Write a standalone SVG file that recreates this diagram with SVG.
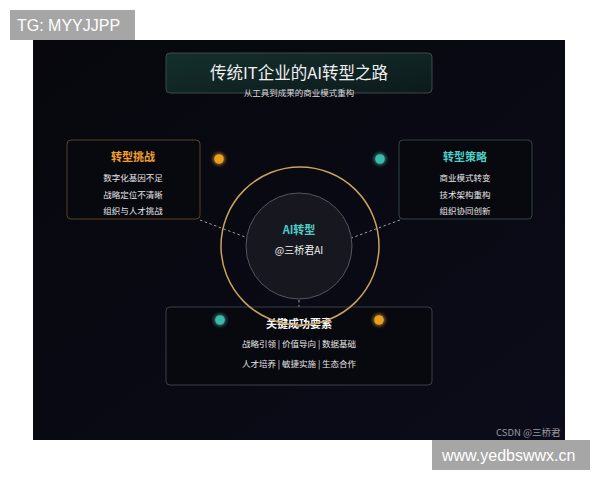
<svg xmlns="http://www.w3.org/2000/svg" width="600" height="480" viewBox="0 0 600 480">
<defs>
<linearGradient id="titleFill" x1="0" y1="0" x2="1" y2="1">
<stop offset="0" stop-color="#14302c"/>
<stop offset="1" stop-color="#0d1a1c"/>
</linearGradient>
<linearGradient id="panel" x1="0" y1="0" x2="1" y2="1">
<stop offset="0" stop-color="#07070d"/>
<stop offset="1" stop-color="#0c0c1a"/>
</linearGradient>
<filter id="glow" x="-100%" y="-100%" width="300%" height="300%">
<feGaussianBlur stdDeviation="1.6"/>
</filter>
</defs>
<style>
.cjk{font-family:"Noto Sans CJK SC","Noto Sans",sans-serif}
.box{fill:#08080f;stroke-width:1}
.item{fill:#e6e6e6;font-size:8.5px;text-anchor:middle}
.head{font-size:11px;font-weight:bold;text-anchor:middle}
.dash{stroke:#9aa0a8;stroke-width:1;stroke-dasharray:2.5 2.5;fill:none}
.wm{font-family:"Liberation Sans",Arial,sans-serif;fill:#ffffff;font-size:16px}
</style>
<rect width="600" height="480" fill="#ffffff"/>
<rect x="33" y="40" width="532" height="400" fill="url(#panel)"/>

<g id="title">
<rect x="166" y="53" width="266" height="40" rx="4" fill="url(#titleFill)" stroke="#3c4a4a"/>
<text x="299" y="79" class="cjk" font-size="16.5" fill="#f0f0f0" text-anchor="middle">传统IT企业的AI转型之路</text>
<text x="299" y="96" class="cjk" font-size="8.5" fill="#d8d8d8" text-anchor="middle">从工具到成果的商业模式重构</text>
</g>

<g id="connectors">
<line class="dash" x1="200" y1="220" x2="253" y2="240"/>
<line class="dash" x1="346" y1="240" x2="400" y2="220"/>
<line class="dash" x1="299" y1="300" x2="299" y2="316"/>
</g>

<g id="challenges">
<rect class="box" x="67" y="140" width="133" height="79" rx="4" stroke="#5a4322"/>
<text x="133" y="161" class="cjk head" fill="#f0a030">转型挑战</text>
<text x="133" y="181" class="cjk item">数字化基因不足</text>
<text x="133" y="198" class="cjk item">战略定位不清晰</text>
<text x="133" y="214" class="cjk item">组织与人才挑战</text>
</g>

<g id="strategy">
<rect class="box" x="399" y="140" width="133" height="79" rx="4" stroke="#2e4446"/>
<text x="465" y="161" class="cjk head" fill="#4ecdc4">转型策略</text>
<text x="465" y="181" class="cjk item">商业模式转变</text>
<text x="465" y="198" class="cjk item">技术架构重构</text>
<text x="465" y="214" class="cjk item">组织协同创新</text>
</g>

<g id="factors">
<rect class="box" x="166" y="307" width="266" height="78" rx="4" stroke="#3a3e48"/>
<text x="299" y="328" class="cjk head" fill="#f4f4f4">关键成功要素</text>
<text x="299" y="347" class="cjk item">战略引领 | 价值导向 | 数据基础</text>
<text x="299" y="367" class="cjk item">人才培养 | 敏捷实施 | 生态合作</text>
</g>

<g id="core">
<circle cx="300" cy="246" r="79" fill="none" stroke="#c9a45a" stroke-width="1.5"/>
<circle cx="299" cy="246" r="53" fill="#17171f" stroke="#55555e" stroke-width="1"/>
<text x="299" y="234" class="cjk" font-size="11" font-weight="bold" fill="#4ecdc4" text-anchor="middle">AI转型</text>
<text x="299" y="254" class="cjk" font-size="10" fill="#f0f0f0" text-anchor="middle">@三桥君AI</text>
</g>

<g id="dots">
<circle cx="219" cy="159" r="6.5" fill="#f0a020" opacity="0.5" filter="url(#glow)"/>
<circle cx="219" cy="159" r="4.8" fill="#e8a020"/>
<circle cx="380" cy="159" r="6.5" fill="#3fc0b4" opacity="0.5" filter="url(#glow)"/>
<circle cx="380" cy="159" r="4.8" fill="#3fb8ac"/>
<circle cx="220" cy="320" r="6.5" fill="#3fc0b4" opacity="0.5" filter="url(#glow)"/>
<circle cx="220" cy="320" r="4.8" fill="#3fb8ac"/>
<circle cx="379" cy="320" r="6.5" fill="#f0a020" opacity="0.5" filter="url(#glow)"/>
<circle cx="379" cy="320" r="4.8" fill="#e8a020"/>
</g>

<text x="496" y="436" class="cjk" font-size="9.5" fill="#9a9aa2">CSDN @三桥君</text>

<g id="watermark-tg">
<rect x="10" y="10" width="125" height="30" fill="#a6a6a6"/>
<text x="17" y="31" class="wm">TG: MYYJJPP</text>
</g>
<g id="watermark-url">
<rect x="432" y="440" width="158" height="30" fill="#a6a6a6"/>
<text x="442" y="461" class="wm">www.yedbswwx.cn</text>
</g>
</svg>
